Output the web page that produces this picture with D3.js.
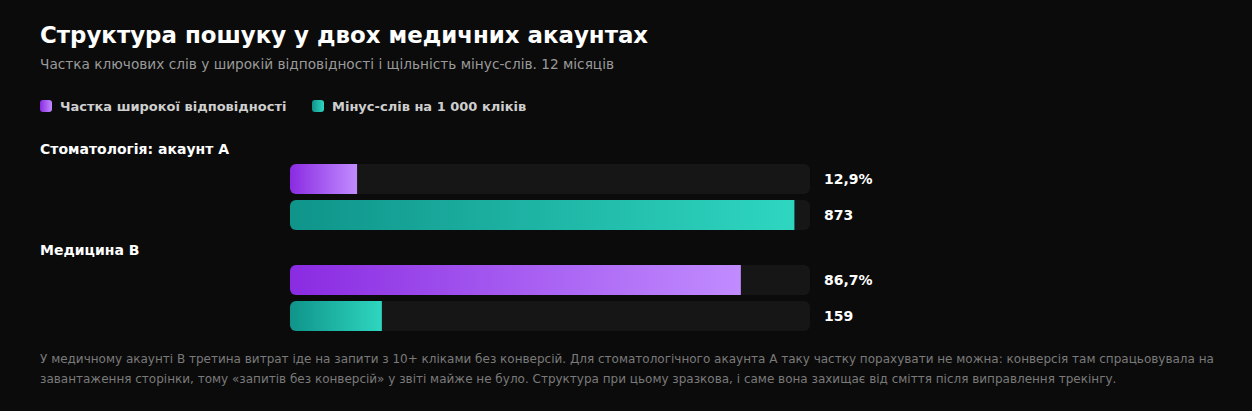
<!DOCTYPE html>
<html><head><meta charset="utf-8">
<script src="https://cdn.jsdelivr.net/npm/d3@7"></script>
<style>
html,body{margin:0;padding:0;background:#0b0b0b;}
svg{display:block;font-family:"DejaVu Sans",sans-serif;}
</style></head>
<body>
<script>
const title = "Структура пошуку у двох медичних акаунтах";
const subtitle = "Частка ключових слів у широкій відповідності і щільність мінус-слів. 12 місяців";
const groups = ["Стоматологія: акаунт А", "Медицина B"];
const seriesNames = ["Частка широкої відповідності", "Мінус-слів на 1 000 кліків"];
const broadShare = [12.9, 86.7];
const negPer1000 = [873, 159];
const broadLabels = ["12,9%", "86,7%"];
const negLabels = ["873", "159"];
const footnote = [
  "У медичному акаунті B третина витрат іде на запити з 10+ кліками без конверсій. Для стоматологічного акаунта А таку частку порахувати не можна: конверсія там спрацьовувала на",
  "завантаження сторінки, тому «запитів без конверсій» у звіті майже не було. Структура при цьому зразкова, і саме вона захищає від сміття після виправлення трекінгу."
];

const W = 1252, H = 411;
const svg = d3.select("body").append("svg").attr("width", W).attr("height", H);
svg.append("rect").attr("width", W).attr("height", H).attr("fill", "#0b0b0b");

const defs = svg.append("defs");
const gradP = defs.append("linearGradient").attr("id", "gp");
gradP.append("stop").attr("offset", "0%").attr("stop-color", "#8a2be2");
gradP.append("stop").attr("offset", "100%").attr("stop-color", "#c18cff");
const gradT = defs.append("linearGradient").attr("id", "gt");
gradT.append("stop").attr("offset", "0%").attr("stop-color", "#0f948a");
gradT.append("stop").attr("offset", "100%").attr("stop-color", "#2ed6c0");

svg.append("text").attr("x", 40).attr("y", 43).attr("fill", "#ffffff")
  .attr("font-size", 22.9).attr("font-weight", "bold").text(title);
svg.append("text").attr("x", 40).attr("y", 69).attr("fill", "#9a9a9a")
  .attr("font-size", 13.7).text(subtitle);

// legend
const legend = svg.append("g");
const lx = [40, 312];
seriesNames.forEach((n, i) => {
  legend.append("rect").attr("x", lx[i]).attr("y", 100).attr("width", 12).attr("height", 12)
    .attr("rx", 3).attr("fill", i === 0 ? "url(#gp)" : "url(#gt)");
  legend.append("text").attr("x", lx[i] + 20).attr("y", 111).attr("fill", "#cfcfcf")
    .attr("font-size", 13).attr("font-weight", "bold").text(n);
});

const x0 = 290, trackW = 520, barH = 30;
const xPct = d3.scaleLinear().domain([0, 100]).range([0, trackW]);
const xNeg = d3.scaleLinear().domain([0, 900]).range([0, trackW]);
const groupTop = [164, 265];
const labelY = [154, 255];

groups.forEach((g, gi) => {
  svg.append("text").attr("x", 40).attr("y", labelY[gi]).attr("fill", "#ffffff")
    .attr("font-size", 14).attr("font-weight", "bold").text(g);
  const rows = [
    {w: xPct(broadShare[gi]), fill: "url(#gp)", lab: broadLabels[gi]},
    {w: xNeg(negPer1000[gi]), fill: "url(#gt)", lab: negLabels[gi]}
  ];
  rows.forEach((r, ri) => {
    const y = groupTop[gi] + ri * 36;
    const cid = "c" + gi + "_" + ri;
    defs.append("clipPath").attr("id", cid).append("rect")
      .attr("x", x0).attr("y", y).attr("width", trackW).attr("height", barH).attr("rx", 6);
    svg.append("rect").attr("x", x0).attr("y", y).attr("width", trackW).attr("height", barH)
      .attr("rx", 6).attr("fill", "#161616");
    svg.append("rect").attr("x", x0).attr("y", y).attr("width", r.w).attr("height", barH)
      .attr("fill", r.fill).attr("clip-path", "url(#" + cid + ")");
    svg.append("text").attr("x", x0 + trackW + 14).attr("y", y + barH / 2 + 5)
      .attr("fill", "#ffffff").attr("font-size", 14).attr("font-weight", "bold").text(r.lab);
  });
});

const fn = svg.append("text").attr("fill", "#7a7a7a").attr("font-size", 12);
footnote.forEach((l, i) => {
  fn.append("tspan").attr("x", 40).attr("y", 363 + i * 20).text(l);
});
</script>
</body></html>
